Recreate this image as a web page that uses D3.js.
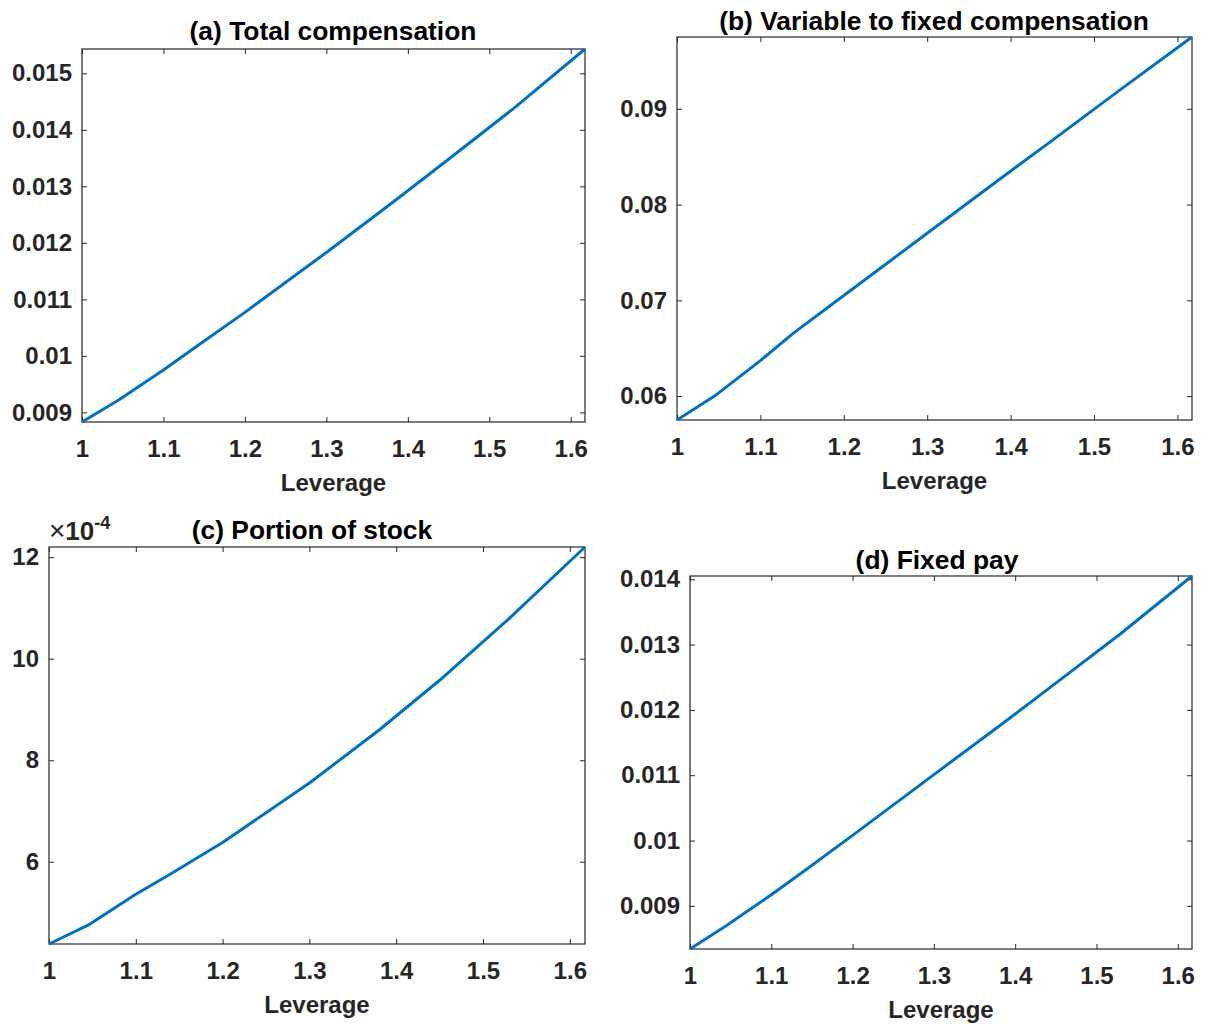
<!DOCTYPE html>
<html>
<head>
<meta charset="utf-8">
<script src="https://cdn.jsdelivr.net/npm/d3@7"></script>
<style>
body { margin: 0; background: #fff; }
svg { display: block; font-family: "Liberation Sans", Arial, sans-serif; font-weight: bold; }
</style>
</head>
<body>
<svg id="chart" width="1205" height="1024"></svg>
<script>
// leverage grid shared by all four panels
const leverage = [1, 1.045, 1.1, 1.14, 1.2, 1.3, 1.38, 1.45, 1.53, 1.6175];

// series
const totalComp = [0.00883, 0.00922, 0.00975, 0.01016, 0.01077, 0.01183, 0.0127, 0.01348, 0.01438, 0.01543];
const variableToFixed = [0.0575, 0.0600, 0.0637, 0.0666, 0.0705, 0.0770, 0.0822, 0.0867, 0.0919, 0.0975];
const stockPortion = [4.38e-4, 4.75e-4, 5.36e-4, 5.76e-4, 6.38e-4, 7.55e-4, 8.59e-4, 9.575e-4, 10.79e-4, 12.2e-4];
const fixedPay = [0.00834, 0.00870, 0.00917, 0.00953, 0.01008, 0.01101, 0.01175, 0.01241, 0.01317, 0.01405];

// tick values
const leverageTicks = [1, 1.1, 1.2, 1.3, 1.4, 1.5, 1.6];
const totalCompTicks = [0.009, 0.010, 0.011, 0.012, 0.013, 0.014, 0.015];
const variableTicks = [0.06, 0.07, 0.08, 0.09];
const stockTicks = [6e-4, 8e-4, 10e-4, 12e-4];
const fixedPayTicks = [0.009, 0.010, 0.011, 0.012, 0.013, 0.014];

const titles = ["(a) Total compensation", "(b) Variable to fixed compensation", "(c) Portion of stock", "(d) Fixed pay"];

const svg = d3.select("#chart");
const axisColor = "#262626";
const lineColor = "#0072BD";

const fmtDec = d => String(+d.toFixed(4));
const fmtStock = d => String(Math.round(d * 1e4));

const panels = [
    {box: [82, 49, 585, 422], values: totalComp, ticks: totalCompTicks, fmt: fmtDec, title: titles[0], titleX: 333, titleY: 40},
    {box: [677, 37, 1192, 420], values: variableToFixed, ticks: variableTicks, fmt: fmtDec, title: titles[1], titleX: 934, titleY: 30},
    {box: [49, 547, 585, 944], values: stockPortion, ticks: stockTicks, fmt: fmtStock, title: titles[2], titleX: 312, titleY: 539, exponent: "-4"},
    {box: [690, 576, 1192, 949], values: fixedPay, ticks: fixedPayTicks, fmt: fmtDec, title: titles[3], titleX: 937, titleY: 569}
];

function styleAxis(g, showLabels) {
    g.attr("font-family", null).attr("font-size", null);
    g.select(".domain").remove();
    g.selectAll(".tick line").attr("stroke", axisColor).attr("stroke-width", 1);
    g.selectAll(".tick text")
        .style("font-size", "24px")
        .attr("fill", axisColor);
    if (!showLabels) g.selectAll(".tick text").remove();
}

function drawPanel(p) {
    const [left, top, right, bottom] = p.box;
    const x = d3.scaleLinear().domain(d3.extent(leverage)).range([left, right]);
    const y = d3.scaleLinear().domain(d3.extent(p.values)).range([bottom, top]);

    const g = svg.append("g");

    // ticks on all four sides, pointing inwards
    g.append("g")
        .attr("transform", `translate(0,${bottom})`)
        .call(d3.axisBottom(x).tickValues(leverageTicks).tickSize(-5).tickPadding(18).tickFormat(fmtDec))
        .call(a => styleAxis(a, true));
    g.append("g")
        .attr("transform", `translate(0,${top})`)
        .call(d3.axisTop(x).tickValues(leverageTicks).tickSize(-5))
        .call(a => styleAxis(a, false));
    g.append("g")
        .attr("transform", `translate(${left},0)`)
        .call(d3.axisLeft(y).tickValues(p.ticks).tickSize(-5).tickPadding(10).tickFormat(p.fmt))
        .call(a => styleAxis(a, true));
    g.append("g")
        .attr("transform", `translate(${right},0)`)
        .call(d3.axisRight(y).tickValues(p.ticks).tickSize(-5))
        .call(a => styleAxis(a, false));

    // box
    g.append("rect")
        .attr("x", left).attr("y", top)
        .attr("width", right - left).attr("height", bottom - top)
        .attr("fill", "none")
        .attr("stroke", axisColor)
        .attr("stroke-width", 1.2);

    // curve
    const line = d3.line()
        .x((d, i) => x(leverage[i]))
        .y(d => y(d));
    g.append("path")
        .datum(p.values)
        .attr("d", line)
        .attr("fill", "none")
        .attr("stroke", lineColor)
        .attr("stroke-width", 3)
        .attr("stroke-linejoin", "round");

    // title
    g.append("text")
        .attr("x", p.titleX)
        .attr("y", p.titleY)
        .attr("text-anchor", "middle")
        .style("font-size", "26.4px")
        .attr("fill", "#000")
        .text(p.title);

    // x label
    g.append("text")
        .attr("x", (left + right) / 2)
        .attr("y", bottom + 69)
        .attr("text-anchor", "middle")
        .style("font-size", "24px")
        .attr("fill", axisColor)
        .text("Leverage");

    if (p.exponent) {
        const t = g.append("text")
            .attr("x", left)
            .attr("y", top - 7)
            .attr("fill", axisColor);
        t.append("tspan").style("font-weight", "normal").style("font-size", "28px").text("\u00d7");
        t.append("tspan").style("font-size", "26px").text("10");
        t.append("tspan").attr("dy", -11).style("font-size", "18px").text(p.exponent);
    }
}

panels.forEach(drawPanel);
</script>
</body>
</html>
